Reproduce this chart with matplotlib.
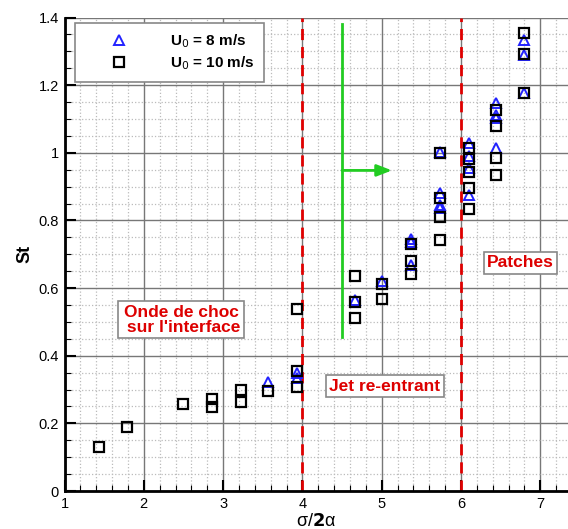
import matplotlib.pyplot as plt
from matplotlib.ticker import MultipleLocator

plt.rcParams['font.family'] = ['Liberation Sans', 'DejaVu Sans']

# U0 = 10 m/s (carrés noirs)
x_10 = [1.43, 1.79, 2.50, 2.86, 2.86, 3.22, 3.22, 3.57, 3.93, 3.93, 3.93,
        4.66, 4.66, 4.66, 5.00, 5.00, 5.37, 5.37, 5.37,
        5.73, 5.73, 5.73, 5.73, 6.10, 6.10, 6.10, 6.10, 6.10,
        6.44, 6.44, 6.44, 6.44, 6.80, 6.80, 6.80]
st_10 = [0.131, 0.188, 0.256, 0.272, 0.247, 0.299, 0.264, 0.297, 0.537, 0.355, 0.308,
         0.636, 0.560, 0.513, 0.612, 0.567, 0.731, 0.681, 0.641,
         0.999, 0.866, 0.810, 0.743, 1.013, 0.981, 0.944, 0.895, 0.833,
         1.127, 1.080, 0.985, 0.933, 1.354, 1.292, 1.177]

# U0 = 8 m/s (triangles bleus)
x_8 = [3.57, 3.93, 3.93, 4.66, 5.00, 5.37, 5.37, 5.37,
       5.73, 5.73, 5.73, 5.73, 6.10, 6.10, 6.10, 6.10,
       6.44, 6.44, 6.44, 6.44, 6.80, 6.80, 6.80]
st_8 = [0.323, 0.348, 0.333, 0.565, 0.620, 0.746, 0.736, 0.669,
        1.001, 0.881, 0.846, 0.837, 1.028, 0.990, 0.954, 0.876,
        1.147, 1.113, 1.103, 1.014, 1.333, 1.290, 1.177]

regimes = [4, 6]

fig = plt.figure(figsize=(5.68, 5.29), dpi=100)
ax = fig.add_axes([0.1136, 0.0718, 0.8864, 0.895])
ax.set_xlim(1, 7.35)
ax.set_ylim(0, 1.4)

# grille façon Tecplot
ax.xaxis.set_major_locator(MultipleLocator(1))
ax.xaxis.set_minor_locator(MultipleLocator(0.2))
ax.yaxis.set_major_locator(MultipleLocator(0.2))
ax.yaxis.set_minor_locator(MultipleLocator(0.05))
ax.grid(which='major', color='#777777', linestyle='-', linewidth=1.0, zorder=0)
ax.grid(which='minor', color='#bbbbbb', linestyle=':', linewidth=0.9, zorder=0)
ax.set_axisbelow(True)

ax.tick_params(which='major', direction='in', length=8, width=1.5, labelsize=10.5,
               top=False, right=False, pad=4)
ax.tick_params(which='minor', direction='in', length=4, width=0.8, top=False, right=False)
ax.yaxis.set_major_formatter(plt.FuncFormatter(lambda v, p: ('%g' % round(v, 2))))

for s in ['top', 'right']:
    ax.spines[s].set_visible(False)
for s in ['left', 'bottom']:
    ax.spines[s].set_linewidth(2)

for xv in regimes:
    ax.axvline(xv, color='#e00000', linestyle=(0, (4, 2.5)), linewidth=2, zorder=2)

# flèche verte
ax.plot([4.5, 4.5], [0.455, 1.38], color='#22cc22', linewidth=2, zorder=2)
ax.annotate('', xy=(5.13, 0.948), xytext=(4.5, 0.948),
            arrowprops=dict(arrowstyle='-|>,head_length=0.9,head_width=0.35',
                            color='#22cc22', linewidth=2, shrinkA=0, shrinkB=0),
            zorder=2)

ax.plot(x_8, st_8, linestyle='none', marker='^', markersize=7.5,
        markerfacecolor='none', markeredgecolor='#2222ff', markeredgewidth=1.4,
        label='U$_0$ = 8 m/s', zorder=3)
ax.plot(x_10, st_10, linestyle='none', marker='s', markersize=7,
        markerfacecolor='none', markeredgecolor='black', markeredgewidth=1.6,
        label='U$_0$ = 10 m/s', zorder=4)

leg = ax.legend(loc='upper left', bbox_to_anchor=(0.021, 0.988), fancybox=False,
                edgecolor='#888888', framealpha=1, handletextpad=1.1,
                borderpad=0.6, labelspacing=0.3, borderaxespad=0,
                prop={'weight': 'bold', 'size': 11}, handlelength=4.5)
leg.get_frame().set_linewidth(1.2)

box = dict(boxstyle='square,pad=0.2', facecolor='white', edgecolor='#888888', linewidth=1.2)
ax.text(2.47, 0.506, "Onde de choc\n sur l'interface", color='#dd0000', weight='bold',
        fontsize=12.5, ha='center', va='center', bbox=box, linespacing=1.0, zorder=5)
ax.text(5.04, 0.31, 'Jet re-entrant', color='#dd0000', weight='bold',
        fontsize=12.5, ha='center', va='center', bbox=box, zorder=5)
ax.text(6.75, 0.675, 'Patches', color='#dd0000', weight='bold',
        fontsize=12.5, ha='center', va='center', bbox=box, zorder=5)

ax.set_ylabel('St', fontsize=13, weight='bold', labelpad=4)
ax.set_xlabel(r'σ/$\mathbf{2}$α', fontsize=13, labelpad=2)

plt.savefig('out.png', dpi=100)
